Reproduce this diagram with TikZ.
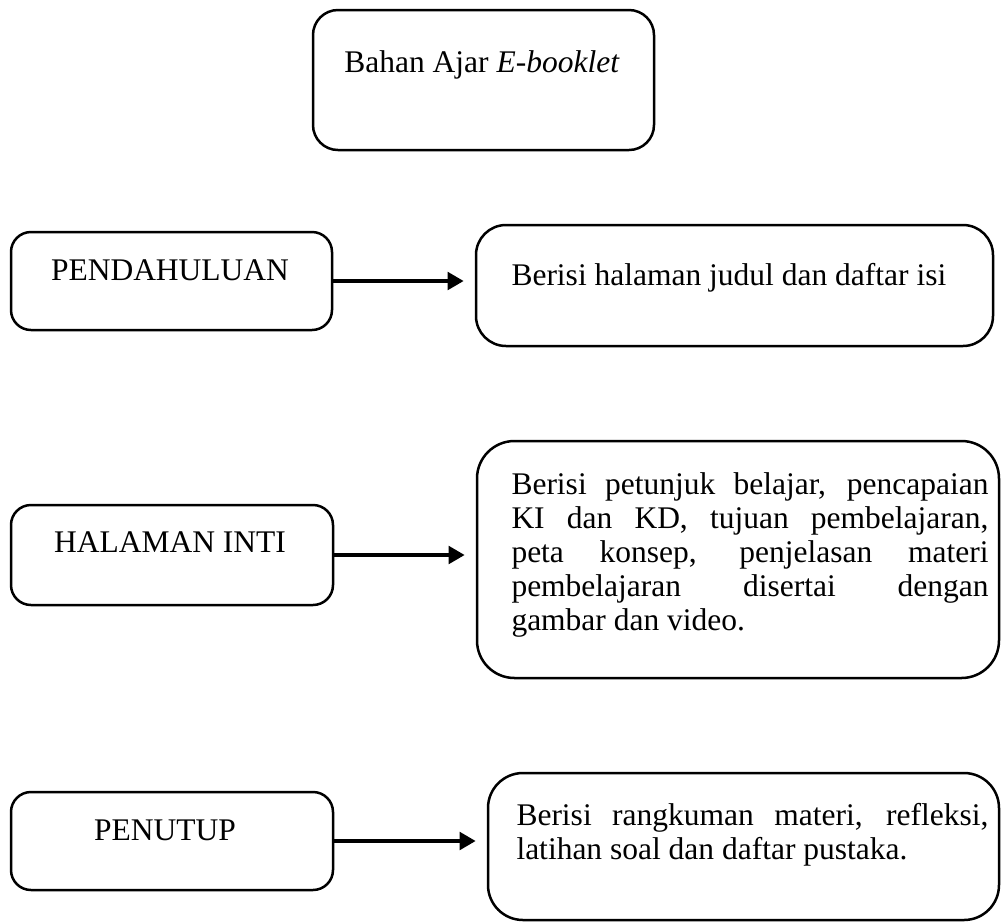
\documentclass[tikz,border=0pt]{standalone}
\usepackage{fontspec}
\setmainfont{Liberation Serif}
\usetikzlibrary{arrows.meta, fit, positioning}
\hyphenpenalty=10000
\exhyphenpenalty=10000

\tikzset{
  kotak/.style={draw, line width=1pt, inner sep=0pt, rounded corners=#1},
  kotak/.default=8pt,
  teks/.style={inner sep=0pt, font=\fontsize{12.6}{13.6}\selectfont},
  isi/.style={teks, text width=190.8pt, align=justify, anchor=north west},
  panah/.style={line width=1.6pt, -{Triangle[length=6.5pt,width=7pt]}, shorten >=4.4pt},
}

\begin{document}
\begin{tikzpicture}[x=0.4pt, y=-0.4pt]
    \useasboundingbox (0,0) rectangle (1001,922);
    % Judul
    \node[kotak=10pt, fit={(313,10) (654,150)}] (judul) {};
    \node[teks, anchor=base] (judult) at (482,72) {Bahan Ajar \textit{E-booklet}};
    % Bagian kiri
    \node[kotak, fit={(11,232) (332,330)}] (pend) {};
    \node[teks, anchor=base] (pendt) at (170,280) {PENDAHULUAN};
    \node[kotak, fit={(11,505) (333,605)}] (inti) {};
    \node[teks, anchor=base] (intit) at (170,552) {HALAMAN INTI};
    \node[kotak, fit={(11,792) (333,890)}] (tutup) {};
    \node[teks, anchor=base] (tutupt) at (165,840) {PENUTUP};
    % Bagian kanan
    \node[kotak=12pt, fit={(476,225) (993,346)}] (isi1) {};
    \node[teks, anchor=base west] (isi1t) at (511,285) {Berisi halaman judul dan daftar isi};
    \node[kotak=15pt, fit={(477,441) (999,678)}] (isi2) {};
    \node[isi] (isi2t) at (511,472) {Berisi petunjuk belajar, pencapaian KI dan KD, tujuan pembelajaran, peta konsep, penjelasan materi pembelajaran disertai dengan\linebreak gambar dan video.};
    \node[kotak=14pt, fit={(488,773) (999,920)}] (isi3) {};
    \node[isi, text width=188.8pt] (isi3t) at (516,803) {Berisi rangkuman materi, refleksi, latihan soal dan daftar pustaka.};
    % Panah
    \draw[panah] (pend.east) -- (pend.east -| isi1.west);
    \draw[panah] (inti.east) -- (inti.east -| isi2.west);
    \draw[panah] (tutup.east) -- (tutup.east -| isi3.west);
\end{tikzpicture}
\end{document}
